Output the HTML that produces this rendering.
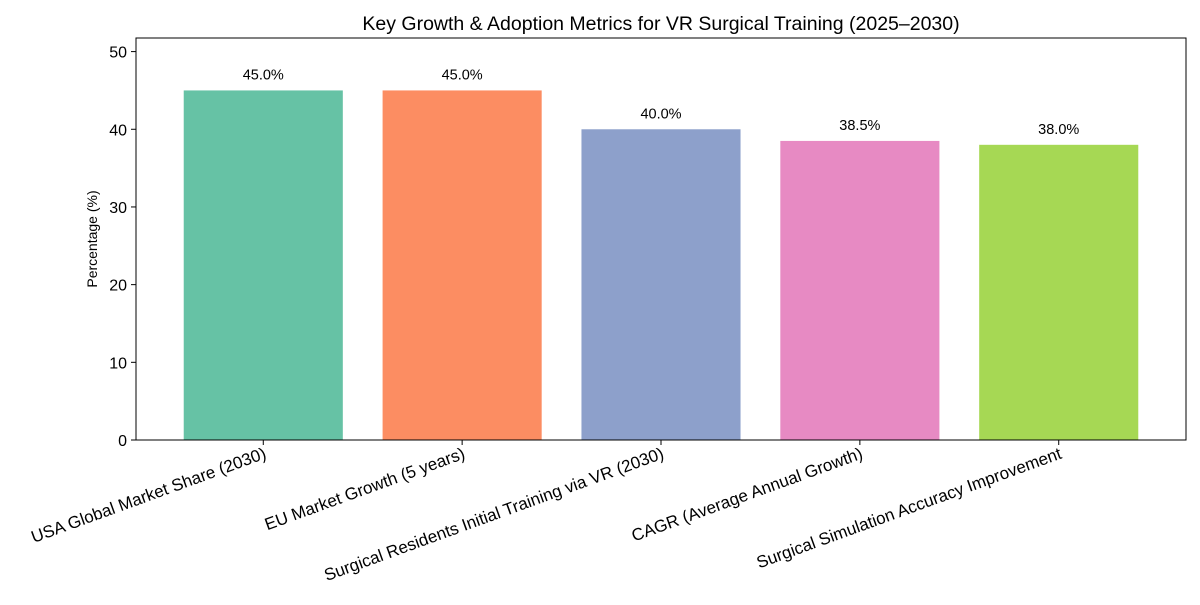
<!DOCTYPE html>
<html><head><meta charset="utf-8"><style>
body{margin:0;background:#fff;font-family:"Liberation Sans",sans-serif;}
svg text{font-family:"Liberation Sans",sans-serif;fill:#000;}
</style></head><body>
<svg id="c" width="1200" height="600">
<text x="661" y="30" font-size="19.5" text-anchor="middle">Key Growth &amp; Adoption Metrics for VR Surgical Training (2025–2030)</text>
<text transform="translate(97,239) rotate(-90)" font-size="14" text-anchor="middle">Percentage (%)</text>
</svg>
<script>
const categories=["USA Global Market Share (2030)","EU Market Growth (5 years)","Surgical Residents Initial Training via VR (2030)","CAGR (Average Annual Growth)","Surgical Simulation Accuracy Improvement"];
const values=[45.0,45.0,40.0,38.5,38.0];
const colors=["#66c2a5","#fc8d62","#8da0cb","#e78ac3","#a6d854"];
const yTicks=[0,10,20,30,40,50];
const svg=document.getElementById('c');const NS="http://www.w3.org/2000/svg";
const L=136,R=1186,T=38,B=440;
const yMax=Math.max(...values)*1.15;
const xMin=-0.64,xMax=categories.length-1+0.64;
const y=v=>B-(v/yMax)*(B-T);
const x=i=>L+(i-xMin)/(xMax-xMin)*(R-L);
const bw=0.8*(R-L)/(xMax-xMin);
function mk(t,a,txt){const e=document.createElementNS(NS,t);for(const k in a)e.setAttribute(k,a[k]);if(txt!=null)e.textContent=txt;svg.appendChild(e);return e;}
values.forEach((v,i)=>{
 const r=mk('rect',{x:x(i)-bw/2,y:y(v),width:bw,height:B-y(v),fill:colors[i]});
 
 
 const t=mk('text',{x:x(i),y:y(v)-11,'font-size':14.5,'text-anchor':'middle'},v.toFixed(1)+'%');
 
 
 const tk=mk('line',{x1:x(i),x2:x(i),y1:B,y2:B+5,stroke:'#000','stroke-width':1});
 
 
 const lb=mk('text',{transform:`translate(${x(i)+4},${B+18}) rotate(-20)`,'font-size':17,'text-anchor':'end'},categories[i]);
 
 
});
yTicks.forEach(v=>{
 const tk=mk('line',{x1:L-5,x2:L,y1:y(v),y2:y(v),stroke:'#000','stroke-width':1});
 
 
 const lb=mk('text',{x:L-9,y:y(v)+6,'font-size':16,'text-anchor':'end'},v);
 
 
});
const fr=mk('rect',{x:L,y:T,width:R-L,height:B-T,fill:'none',stroke:'#000','stroke-width':1});


</script>
</body></html>
